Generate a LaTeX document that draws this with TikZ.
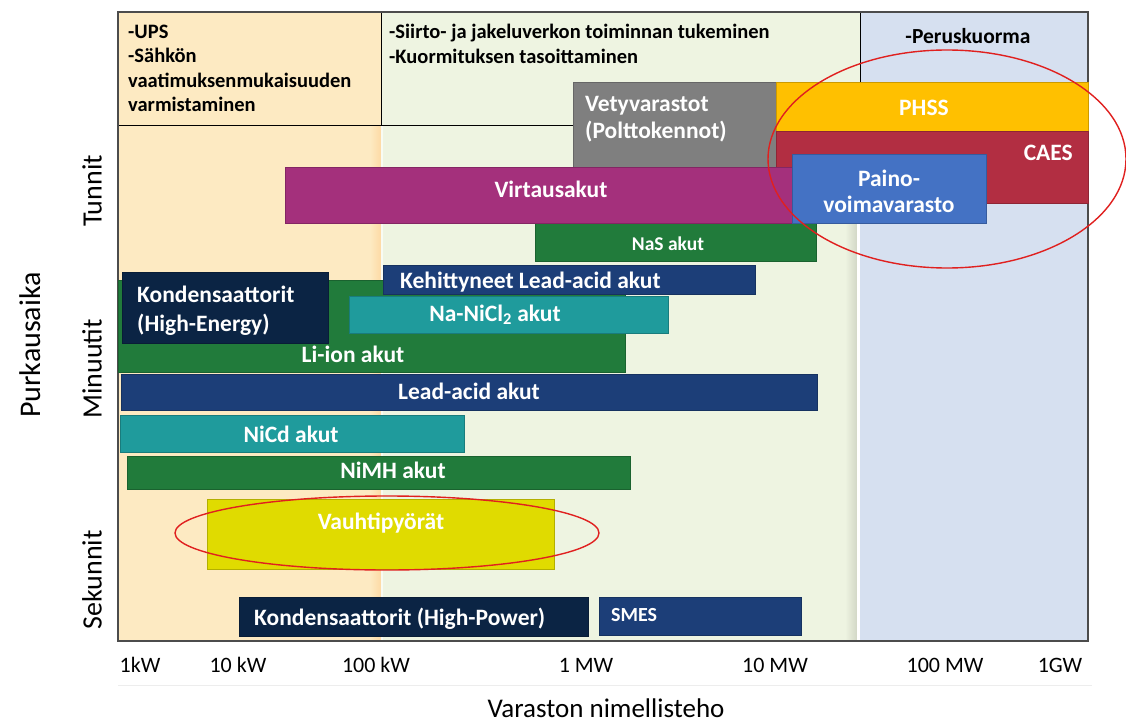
\documentclass[tikz,border=0pt]{standalone}
\usepackage{fontspec}
\setmainfont{Carlito}
\usetikzlibrary{shapes.geometric}

\definecolor{zoneA}{HTML}{FDEAC2}
\definecolor{zoneB}{HTML}{EEF4E1}
\definecolor{zoneC}{HTML}{D6E0F0}
\definecolor{cGray}{HTML}{7F7F7F}
\definecolor{cOrange}{HTML}{FFC000}
\definecolor{cCrimson}{HTML}{B22E42}
\definecolor{cBlue}{HTML}{4472C4}
\definecolor{cMagenta}{HTML}{A4307C}
\definecolor{cGreen}{HTML}{217B3B}
\definecolor{cNavy}{HTML}{1C3E78}
\definecolor{cInk}{HTML}{0B2444}
\definecolor{cTeal}{HTML}{1F9B9C}
\definecolor{cLime}{HTML}{E0DB00}
\definecolor{cRing}{HTML}{E0201F}

\begin{document}
\begin{tikzpicture}[x=1pt,y=-1pt,
  bar/.style={draw=#1!80!black, fill=#1, line width=0.8pt, inner sep=0pt, outer sep=0pt, anchor=north west},
  blab/.style={text=white, font=\bfseries\fontsize{23.5}{27}\selectfont, inner sep=0pt, anchor=base},
  hlab/.style={text=black, font=\bfseries\fontsize{20.5}{24.5}\selectfont, inner sep=0pt, anchor=base west},
  tick/.style={font=\fontsize{22}{26}\selectfont, inner sep=0pt, anchor=base},
  side/.style={font=\fontsize{28}{32}\selectfont, inner sep=0pt, rotate=90},
  ring/.style={ellipse, draw=cRing, line width=1.4pt, inner sep=0pt},
]
\useasboundingbox (0,0) rectangle (1126,722);
\fill[white] (0,0) rectangle (1126,722);

% application zones
\fill[zoneA] (118,12) rectangle (381,641);
\fill[zoneB] (381,12) rectangle (860,641);
\fill[zoneC] (860,12) rectangle (1088,641);
\shade[left color=zoneA, right color=zoneA!85!orange] (370,126) rectangle (381,641);
\fill[white!60!zoneB] (381,126) rectangle (383,641);
\shade[left color=zoneB, right color=zoneB!88!black] (845,126) rectangle (857,641);
\fill[white] (857,126) rectangle (860,641);

% header row
\draw[line width=0.9pt] (118,125) -- (860,125);
\draw[line width=0.9pt] (381,12) -- (381,125);
\draw[line width=0.9pt] (860,12) -- (860,125);
\draw[line width=1.1pt, black!70] (118,12) rectangle (1088,641);
\draw[black!7, line width=0.8pt] (118,685) -- (1092,685);

\node[hlab] (hA1) at (128,39) {-UPS};
\node[hlab] (hA2) at (128,63) {-Sähkön};
\node[hlab] (hA3) at (128,88) {vaatimuksenmukaisuuden};
\node[hlab] (hA4) at (128,112) {varmistaminen};
\node[hlab] (hB1) at (389,39) {-Siirto- ja jakeluverkon toiminnan tukeminen};
\node[hlab] (hB2) at (389,64) {-Kuormituksen tasoittaminen};
\node[hlab, anchor=base, font=\bfseries\fontsize{21.5}{25}\selectfont] (hC1) at (968,44) {-Peruskuorma};

% technology bars
\node[bar=cGreen, minimum width=507pt, minimum height=92pt] (liion) at (118,280) {};
\node[bar=cInk, minimum width=206pt, minimum height=71pt] (kondHE) at (122,272) {};
\node[bar=cNavy, minimum width=372pt, minimum height=29pt] (kehit) at (383,265) {};
\node[bar=cTeal, minimum width=319pt, minimum height=37pt] (nanicl) at (349,296) {};
\node[bar=cGreen, minimum width=281pt, minimum height=38pt] (nas) at (535,223) {};
\node[bar=cGray, minimum width=203pt, minimum height=85pt] (vety) at (573,82) {};
\node[bar=cOrange, minimum width=312pt, minimum height=49pt] (phss) at (776,82) {};
\node[bar=cCrimson, minimum width=312pt, minimum height=72pt] (caes) at (776,131) {};
\node[bar=cMagenta, minimum width=507pt, minimum height=56pt] (virta) at (285,167) {};
\node[bar=cBlue, minimum width=194pt, minimum height=69pt] (paino) at (792,154) {};
\node[bar=cNavy, minimum width=696pt, minimum height=36pt] (lead) at (121,374) {};
\node[bar=cTeal, minimum width=344pt, minimum height=37pt] (nicd) at (120,415) {};
\node[bar=cGreen, minimum width=503pt, minimum height=33pt] (nimh) at (127,456) {};
\node[bar=cLime, minimum width=347pt, minimum height=70pt] (vauhti) at (207,499) {};
\node[bar=cInk, minimum width=349pt, minimum height=39pt] (kondHP) at (239,597) {};
\node[bar=cNavy, minimum width=202pt, minimum height=38pt] (smes) at (599,597) {};

% bar labels
\node[blab, anchor=base west] (tVety1) at (585,112) {Vetyvarastot};
\node[blab, anchor=base west] (tVety2) at (585,139) {(Polttokennot)};
\node[blab] (tPhss) at (924,116) {PHSS};
\node[blab, anchor=base east] (tCaes) at (1073,161) {CAES};
\node[blab] (tPaino1) at (889,186) {Paino-};
\node[blab] (tPaino2) at (889,212) {voimavarasto};
\node[blab] (tVirta) at (551,197) {Virtausakut};
\node[blab, font=\bfseries\fontsize{19.5}{22}\selectfont] (tNas) at (668,250) {NaS akut};
\node[blab, anchor=base west] (tKehit) at (400,288) {Kehittyneet Lead-acid akut};
\node[blab, anchor=base west] (tKondHE1) at (137,302) {Kondensaattorit};
\node[blab, anchor=base west] (tKondHE2) at (137,331) {(High-Energy)};
\node[blab] (tNanicl) at (495,321) {Na-NiCl\textsubscript{2} akut};
\node[blab] (tLiion) at (353,362) {Li-ion akut};
\node[blab] (tLead) at (469,399) {Lead-acid akut};
\node[blab] (tNicd) at (291,442) {NiCd akut};
\node[blab] (tNimh) at (393,478) {NiMH akut};
\node[blab] (tVauhti) at (381,529) {Vauhtipyörät};
\node[blab, anchor=base west] (tKondHP) at (254,625) {Kondensaattorit (High-Power)};
\node[blab, anchor=base west, font=\bfseries\fontsize{20}{23}\selectfont] (tSmes) at (611,621) {SMES};

% highlight rings
\node[ring, minimum width=358pt, minimum height=218pt] (ringBig) at (947,159) {};
\node[ring, minimum width=424pt, minimum height=74pt] (ringSmall) at (387,533) {};

% axes
\node[tick] (x1) at (140,672) {1kW};
\node[tick] (x2) at (238,672) {10 kW};
\node[tick] (x3) at (376,672) {100 kW};
\node[tick] (x4) at (586,672) {1 MW};
\node[tick] (x5) at (775,672) {10 MW};
\node[tick] (x6) at (945,672) {100 MW};
\node[tick] (x7) at (1060,672) {1GW};
\node[font=\fontsize{27}{31}\selectfont, inner sep=0pt, anchor=base] (xtitle) at (606,717) {Varaston nimellisteho};
\node[side, font=\fontsize{30}{34}\selectfont] (ytitle) at (30,345) {Purkausaika};
\node[side] (yH) at (92,191) {Tunnit};
\node[side] (yM) at (92,369) {Minuutit};
\node[side] (yS) at (92,580) {Sekunnit};
\end{tikzpicture}
\end{document}
